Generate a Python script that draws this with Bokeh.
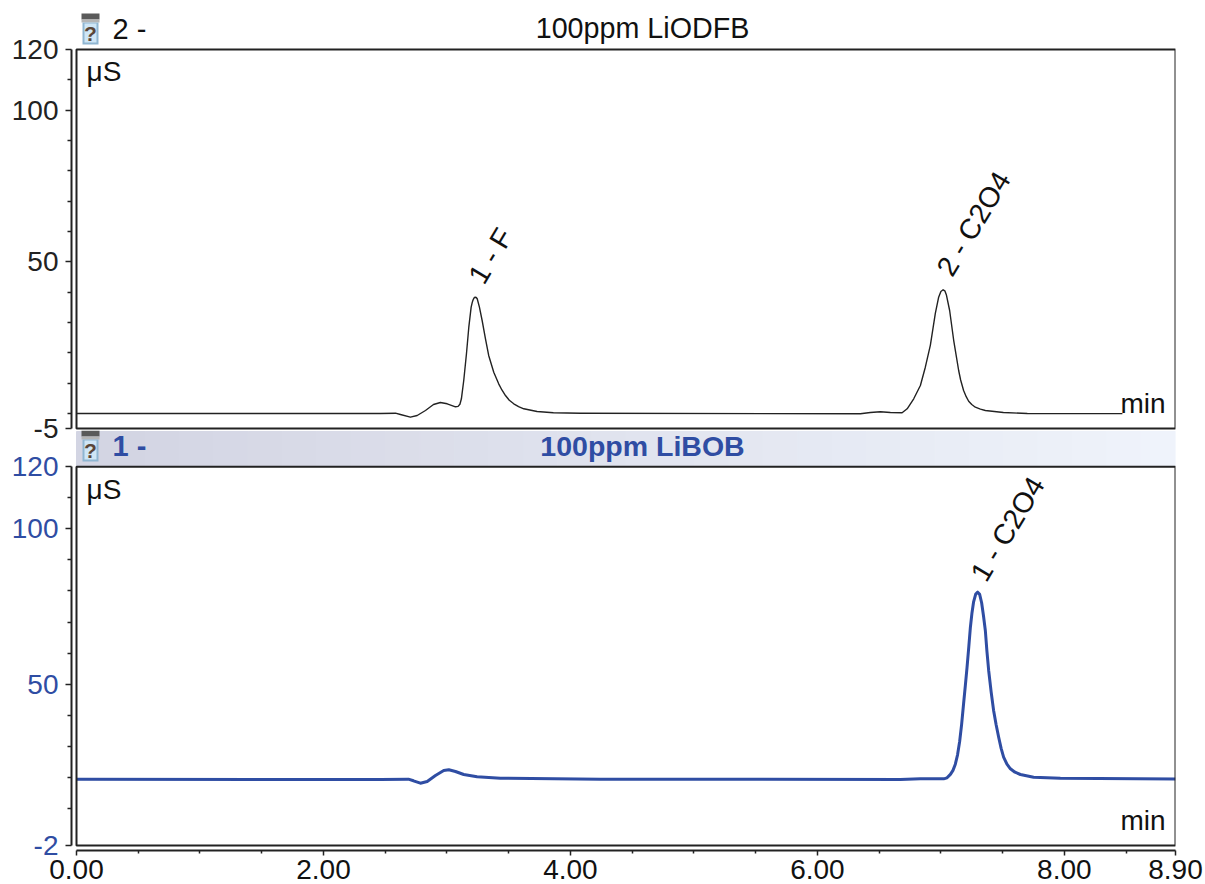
from bokeh.plotting import figure
from bokeh.layouts import column
from bokeh.models import FixedTicker, BoxAnnotation, NumeralTickFormatter
from bokeh.core.properties import value
from bokeh.embed import file_html
from bokeh.resources import INLINE

# ---------- data ----------
t_odfb = [0.0, 2.462, 2.583, 2.623, 2.704, 2.759, 2.826, 2.891, 2.947, 3.002, 3.069, 3.090, 3.105, 3.117, 3.136, 3.158,
          3.177, 3.196, 3.205, 3.212, 3.220, 3.228, 3.237, 3.245, 3.263, 3.285, 3.312, 3.338, 3.379, 3.419, 3.445, 3.474, 3.505, 3.541, 3.58, 3.622, 3.730,
          3.862, 4.081, 6.348, 6.429, 6.510, 6.591, 6.686, 6.727, 6.780, 6.834, 6.874, 6.915, 6.955, 6.982, 7.000, 7.018,
          7.032, 7.045, 7.071, 7.104, 7.144, 7.16, 7.184, 7.205, 7.225, 7.25, 7.279, 7.32, 7.360, 7.506, 7.700, 8.470]
v_odfb = [-0.05, -0.05, 0.05, -0.38, -1.27, -0.71, 0.94, 2.92, 3.58, 3.15, 2.16, 2.3, 3.0, 4.8, 10.83, 19.64,
          28.41, 35.01, 36.6, 37.45, 38.1, 38.3, 38.2, 37.78, 35.01, 30.62, 24.59, 19.08, 13.57, 9.74, 7.7, 5.88, 4.3, 3.15, 2.2, 1.5, 0.61,
          0.18, 0.05, -0.15, 0.28, 0.51, 0.28, 0.18, 1.5, 4.8, 9.18, 15.22, 22.5, 33.0, 38.3, 40.2, 40.75,
          40.4, 39.0, 33.92, 24.02, 14.13, 11.0, 7.53, 5.5, 4.0, 2.9, 2.02, 1.4, 0.94, 0.28, -0.05, -0.1]
t_libob = [0.0, 2.462, 2.688, 2.729, 2.785, 2.840, 2.907, 2.974, 3.015, 3.069, 3.136, 3.244, 3.433, 4.243, 6.672,
           6.834, 7.023, 7.050, 7.077, 7.098, 7.117, 7.135, 7.152, 7.168, 7.184, 7.198, 7.212, 7.226, 7.239, 7.252, 7.265, 7.282, 7.298, 7.314, 7.330, 7.345, 7.360, 7.373, 7.387, 7.407, 7.427, 7.447, 7.468,
           7.488, 7.508, 7.535, 7.563, 7.60, 7.644, 7.751, 7.968, 8.9]
v_libob = [19.3, 19.26, 19.36, 18.84, 18.07, 18.62, 20.55, 22.16, 22.39, 21.84, 20.87, 20.13, 19.68, 19.36, 19.26,
           19.48, 19.48, 19.8, 20.9, 22.2, 24.2, 27.2, 31.5, 37.0, 43.74, 49.5, 55.44, 62.0, 68.32, 73.0, 76.5, 79.0, 79.6, 78.9, 76.2, 72.0, 67.26, 60.5, 54.38, 47.5, 41.49, 37.0, 32.89,
           29.3, 26.44, 24.2, 22.71, 21.6, 20.87, 20.0, 19.68, 19.42]
peak_odfb_t = [3.352, 7.263]
peak_odfb_v = [52.0, 62.6]
peak_odfb_txt = ["1 - F", "2 - C2O4"]
peak_libob_t = [7.538]
peak_libob_v = [100.0]
peak_libob_txt = ["1 - C2O4"]
x_ticks = [0, 2, 4, 6, 8, 8.9]
x_minor = [0.5, 1, 1.5, 2.5, 3, 3.5, 4.5, 5, 5.5, 6.5, 7, 7.5, 8.5]
y_ticks_top = [-5, 50, 100, 120]
y_ticks_bot = [-2, 50, 100, 120]
y_minor_top = [0, 10, 20, 30, 40, 60, 70, 80, 90, 110]
y_minor_bot = [10, 20, 30, 40, 60, 70, 80, 90, 110]

# ---------- layout constants (page pixels) ----------
FONT = value("Liberation Sans")
FS = "28px"
INK = "#222222"
BLUE = "#2f4da3"
X0, X1 = 76.0, 1175.0
XMAX = 8.9
XS = (X1 - X0) / XMAX
AX_LEFT = 71.0
WIDTH = 1205


def xd(px):
    return (px - X0) / XS


def make(top_px, bottom_px, y120_px, ypx, ymin, height, color, ticks, minor, with_x):
    yd = lambda py: 120 - (py - y120_px) / ypx
    p = figure(width=WIDTH, height=height, output_backend="svg", toolbar_location=None,
               x_range=(xd(AX_LEFT), XMAX), y_range=(yd(bottom_px), yd(top_px)),
               min_border_left=int(AX_LEFT), min_border_right=30, min_border_top=0,
               min_border_bottom=height - int(bottom_px - top_px),
               x_axis_location="below" if with_x else None, outline_line_color=None,
               background_fill_color=None, border_fill_color=None)
    p.grid.visible = False
    ya = p.yaxis[0]
    ya.ticker = FixedTicker(ticks=ticks, minor_ticks=minor)
    ya.major_label_overrides = {ymin: str(ymin)}
    ya.bounds = (ymin, 120)
    ya.axis_line_color = INK
    ya.axis_line_width = 2
    ya.major_tick_line_color = INK
    ya.minor_tick_line_color = INK
    ya.major_tick_line_width = 1.5
    ya.minor_tick_line_width = 1.5
    ya.major_tick_out = 6
    ya.major_tick_in = 0
    ya.minor_tick_out = 4
    ya.minor_tick_in = 0
    ya.major_label_standoff = 7
    ya.major_label_text_font = "Liberation Sans"
    ya.major_label_text_font_size = "28px"
    ya.major_label_text_color = color
    if with_x:
        xa = p.xaxis[0]
        xa.ticker = FixedTicker(ticks=x_ticks, minor_ticks=x_minor)
        xa.formatter = NumeralTickFormatter(format="0.00")
        xa.bounds = (0, XMAX)
        xa.axis_line_color = INK
        xa.axis_line_width = 2
        xa.major_tick_line_color = INK
        xa.minor_tick_line_color = INK
        xa.major_tick_line_width = 1.5
        xa.minor_tick_line_width = 1.5
        xa.major_tick_out = 5
        xa.major_tick_in = 0
        xa.minor_tick_out = 3
        xa.minor_tick_in = 0
        xa.major_label_standoff = 4
        xa.major_label_text_font = "Liberation Sans"
        xa.major_label_text_font_size = FS
        xa.major_label_text_color = "#111111"
    return p, yd


def txt(p, x, y, s, color="#111111", align="left", base="alphabetic", angle=0.0, style="normal", size=FS):
    p.text(x=[x], y=[y], text=[s], text_color=color, text_align=align, text_baseline=base, angle=angle,
           text_font=FONT, text_font_style=style, text_font_size=size)


def vial(p, yd, off):
    def box(l, r, t, b, c):
        p.quad(left=[xd(l)], right=[xd(r)], top=[yd(t + off)], bottom=[yd(b + off)], fill_color=c, line_color=None)
    box(81, 99, 13, 19, "#5a5a5a")
    box(81, 99, 19, 22, "#b5b5b5")
    box(82, 98, 22, 44, "#8fb6d2")
    box(84, 96, 23, 42, "#cfe6f6")
    txt(p, xd(90), yd(33 + off), "?", color="#5b4638", align="center", base="middle", style="bold", size="21px")


def decorate(p, yd, ymin, mu_base, min_base):
    p.add_layout(BoxAnnotation(left=0, right=XMAX, top=120, bottom=ymin, fill_alpha=0,
                               line_color=INK, line_alpha=1, line_width=2))
    txt(p, xd(86), yd(mu_base), "μS")
    txt(p, xd(1165), yd(min_base), "min", align="right")


# ---------- upper panel ----------
p1, yd1 = make(0, 430, 49, 3.032, -5, 445, INK, y_ticks_top, y_minor_top, False)
p1.line(t_odfb, v_odfb, line_color=INK, line_width=1.4, line_join="round")
decorate(p1, yd1, -5, 71, 403)
vial(p1, yd1, 0)
txt(p1, xd(112), yd1(28), "2 -", base="middle", size="29px")
txt(p1, xd(642), yd1(27), "100ppm LiODFB", align="center", base="middle", size="28.7px")
for a, b, s in zip(peak_odfb_t, peak_odfb_v, peak_odfb_txt):
    txt(p1, a, b, s, align="center", base="middle", angle=1.03, size="28.5px")

# ---------- lower panel ----------
p2, yd2 = make(430, 850, 466.3, 3.104, -2, 454, BLUE, y_ticks_bot, y_minor_bot, True)
p2.margin = (-15, 0, 0, 0)
BAND = 32
for i in range(BAND):
    f = i / (BAND - 1)
    r = int(0xd3 + (0xef - 0xd3) * f)
    g = int(0xd5 + (0xf3 - 0xd5) * f)
    b_ = int(0xe3 + (0xfb - 0xe3) * f)
    col = f"#{r:02x}{g:02x}{b_:02x}"
    p2.quad(left=[XMAX * i / BAND], right=[XMAX * (i + 1) / BAND], top=[yd2(431)], bottom=[yd2(465)],
            fill_color=col, line_color=col)
p2.line(t_libob, v_libob, line_color=BLUE, line_width=3, line_join="round")
decorate(p2, yd2, -2, 489, 820)
vial(p2, yd2, 417)
txt(p2, xd(112), yd2(445), "1 -", color=BLUE, base="middle", style="bold", size="29px")
txt(p2, xd(642), yd2(445), "100ppm LiBOB", color=BLUE, align="center", base="middle", style="bold", size="28.5px")
for a, b, s in zip(peak_libob_t, peak_libob_v, peak_libob_txt):
    txt(p2, a, b, s, align="center", base="middle", angle=1.03, size="28.5px")

page = column(p1, p2, spacing=0)
open("out.html", "w").write(file_html(page, INLINE))
